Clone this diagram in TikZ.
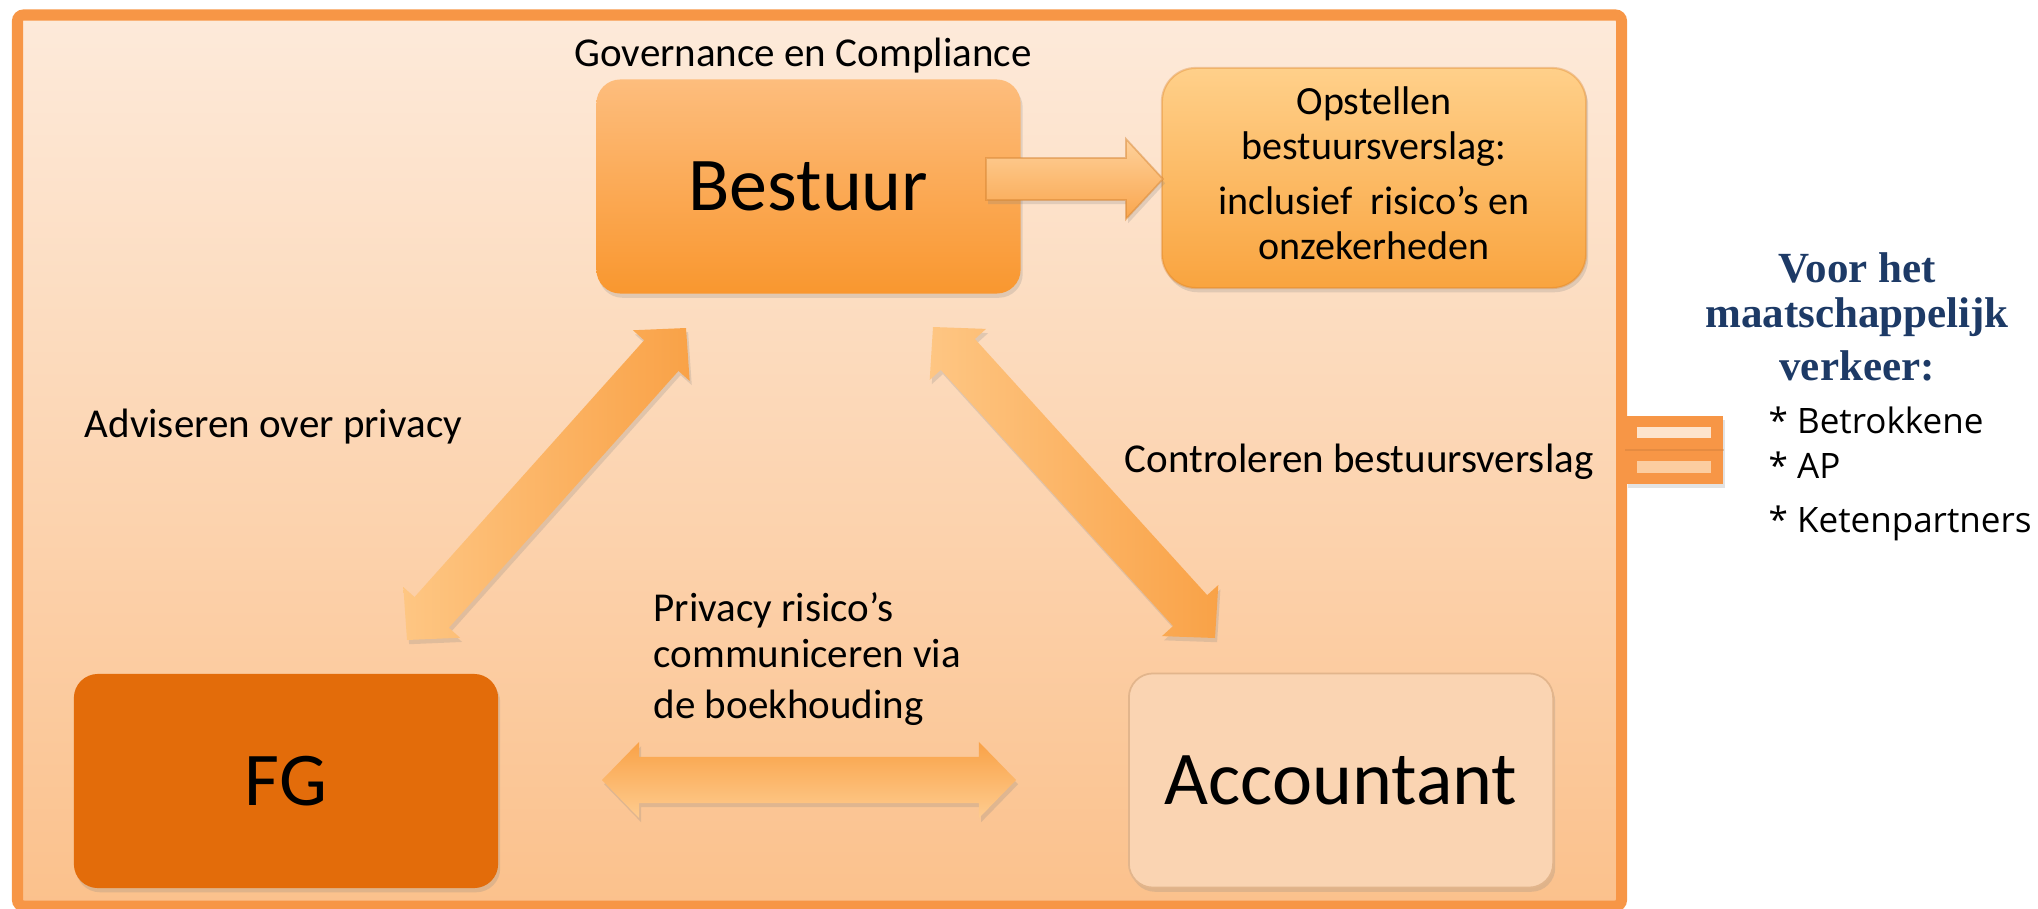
\documentclass[tikz,border=0pt]{standalone}
\usepackage{fontspec}
\setmainfont{Carlito}
\newfontfamily\vserif{Liberation Serif}
\newfontfamily\osans{Open Sans}
\usetikzlibrary{calc,shadows}

\definecolor{frameor}{HTML}{F79646}
\definecolor{bgtop}{HTML}{FDEADA}
\definecolor{bgbot}{HTML}{FBC18C}
\definecolor{besttop}{HTML}{FDBD7D}
\definecolor{bestbot}{HTML}{F9972F}
\definecolor{opstop}{HTML}{FFD08A}
\definecolor{opsbot}{HTML}{F9A43F}
\definecolor{fgfill}{HTML}{E36C0A}
\definecolor{accfill}{HTML}{FAD4B2}
\definecolor{accdraw}{HTML}{E2B58C}
\definecolor{arrlight}{HTML}{FEC683}
\definecolor{arrdark}{HTML}{F9A247}
\definecolor{vblue}{HTML}{1D3A66}
\definecolor{eqlightA}{HTML}{FDE4CD}
\definecolor{eqlightB}{HTML}{FCCDA0}

\newcommand{\blockdouble}[3]{%
  \coordinate (#1#2ha) at ($(#1)!0.37cm!(#2)$);
  \coordinate (#1#2hb) at ($(#2)!0.37cm!(#1)$);
  \path[#3] (#1)
    -- ($(#1#2ha)!0.38cm!90:(#2)$) -- ($(#1#2ha)!0.23cm!90:(#2)$)
    -- ($(#1#2hb)!0.23cm!-90:(#1)$) -- ($(#1#2hb)!0.38cm!-90:(#1)$)
    -- (#2)
    -- ($(#1#2hb)!0.38cm!90:(#1)$) -- ($(#1#2hb)!0.23cm!90:(#1)$)
    -- ($(#1#2ha)!0.23cm!-90:(#2)$) -- ($(#1#2ha)!0.38cm!-90:(#2)$)
    -- cycle;
}
\newcommand{\blocksingle}[3]{%
  \coordinate (#1#2hb) at ($(#2)!0.37cm!(#1)$);
  \path[#3] ($(#1)!0.21cm!90:(#2)$)
    -- ($(#1#2hb)!0.21cm!-90:(#1)$) -- ($(#1#2hb)!0.40cm!-90:(#1)$)
    -- (#2)
    -- ($(#1#2hb)!0.40cm!90:(#1)$) -- ($(#1#2hb)!0.21cm!90:(#1)$)
    -- ($(#1)!0.21cm!-90:(#2)$) -- cycle;
}

\begin{document}
\begin{tikzpicture}[x=0.01cm,y=-0.01cm,
  lbl/.style={inner sep=0pt, font=\fontsize{11.67}{13.1}\selectfont},
  boxbase/.style={inner sep=0pt, minimum width=4.24cm, minimum height=2.14cm,
    rounded corners=0.24cm, font=\fontsize{21.6}{26}\selectfont},
  shad/.style={drop shadow={opacity=0.22, shadow xshift=0.6pt, shadow yshift=-1.2pt}},
  arrowdiag/.style={left color=arrlight, right color=arrdark, shad},
  arrowhor/.style={top color=arrdark, bottom color=arrlight!90!white, shad},
  arrowright/.style={top color=arrlight!80!white, bottom color=arrdark!90!arrlight,
    draw=brown!70!orange, draw opacity=0.45, line width=0.5pt, shad}
]
\useasboundingbox (0,0) rectangle (2038,909);

% frame
\draw[draw=frameor, line width=0.11cm, rounded corners=0.06cm,
  top color=bgtop, bottom color=bgbot] (17.5,15) rectangle (1621.5,906);

% boxes
\node[boxbase, shad, top color=besttop, bottom color=bestbot] (bestuur) at (808.5,186.5) {Bestuur};
\node[boxbase, shad, minimum height=2.2cm, rounded corners=0.34cm,
  top color=opstop, bottom color=opsbot, draw=brown!60!orange, draw opacity=0.35, line width=0.6pt,
  font=\fontsize{11.38}{12.8}\selectfont] (ops) at (1374,178)
  {\begin{tabular}{@{}c@{}}Opstellen\\bestuursverslag:\\[2.8pt]inclusief~ risico’s en\\onzekerheden\end{tabular}};
\node[boxbase, shad, fill=fgfill] (fg) at (286,781) {FG};
\node[boxbase, shad, fill=accfill, draw=accdraw, line width=0.5pt] (acc) at (1341,780.5) {Accountant};

% labels
\node[lbl, anchor=base] (gov) at (803,67) {Governance en Compliance};
\node[lbl, anchor=base west] (adv) at (84,437) {Adviseren over privacy};
\node[lbl, anchor=base west] (contr) at (1124,472) {Controleren bestuursverslag};
\node[lbl, anchor=base west] (priv) at (653,621)
  {\begin{tabular}[t]{@{}l@{}}Privacy risico’s\\communiceren via\\[1.4pt]de boekhouding\end{tabular}};

% arrow end points
\coordinate (sA) at (986,179);
\coordinate (sB) at (1163,179);
\coordinate (lA) at (407,640);
\coordinate (lB) at (686,328);
\coordinate (rA) at (933,327);
\coordinate (rB) at (1215,638);
\coordinate (hA) at (602,780);
\coordinate (hB) at (1016,780);

\blockdouble{lA}{lB}{arrowdiag}
\blockdouble{rA}{rB}{arrowdiag}
\blockdouble{hA}{hB}{arrowhor}
\blocksingle{sA}{sB}{arrowright}

% equals sign
\node[inner sep=0pt, minimum width=0.97cm, minimum height=0.68cm, fill=frameor, shad] (eq) at (1674.5,450) {};
\fill[eqlightA] (1637,427) rectangle (1711,438);
\fill[eqlightB] (1637,461) rectangle (1711,473);
\draw[frameor!80!black, line width=0.3pt, opacity=0.35] (eq.west) -- (eq.east);

% right-hand text
\node[inner sep=0pt, anchor=base, text=vblue,
  font=\vserif\bfseries\fontsize{12.23}{12.8}\selectfont] (voor) at (1857,282)
  {\begin{tabular}[t]{@{}c@{}}Voor het\\maatschappelijk\\[2.3pt]verkeer:\end{tabular}};
\node[inner sep=0pt, anchor=base west,
  font=\osans\fontsize{9.96}{12.8}\selectfont] (list) at (1768,433)
  {\begin{tabular}[t]{@{}l@{}}* Betrokkene\\\relax* AP\\[2.8pt]* Ketenpartners\end{tabular}};
\end{tikzpicture}
\end{document}
